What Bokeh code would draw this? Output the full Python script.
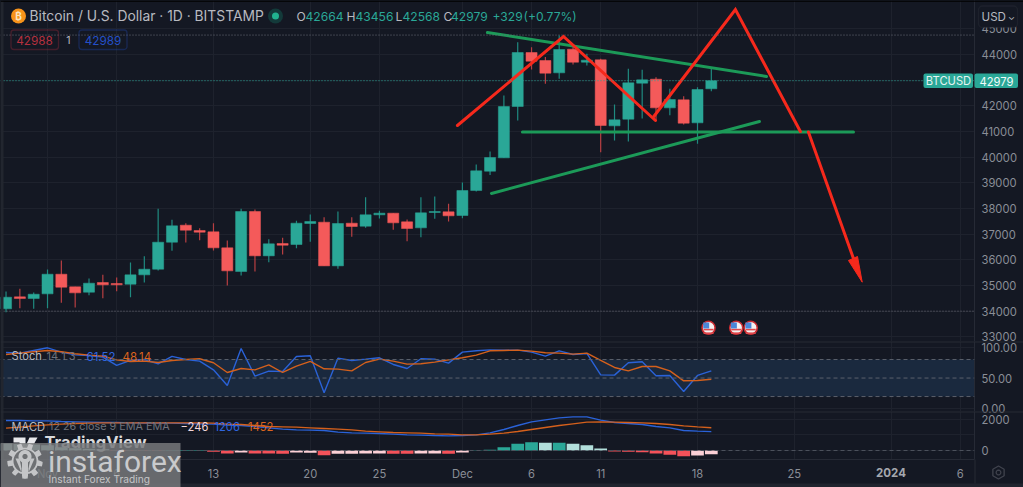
import numpy as np
from bokeh.embed import file_html
from bokeh.resources import INLINE
from bokeh.layouts import column
from bokeh.models import (BoxAnnotation, ColumnDataSource, FixedTicker, Label, PolyAnnotation, Range1d, Span)
from bokeh.plotting import figure

# ---------- data ----------
days = list(range(-15, 37))  # days from 13 Nov 2023
opens = [34090,34557,34492,34674,35440,34947,34739,35116,35077,35051,35414,35635,36687,37350,37142,37090,36467,35544,
         37882,36155,36635,36597,37415,37467,35765,37428,37311,37753,37818,37480,37246,37844,37870,37727,38700,39453,
         39973,41973,44078,43766,43285,44208,43701,43792,41220,41480,42883,43039,41921,42233,41337,42664]
highs = [34765,34869,34726,35622,35973,34947,35271,35414,35310,35895,36142,37986,37558,37428,37233,37428,36752,37986,
         37960,36804,36856,37519,37766,37662,37882,37662,38441,37908,37818,37571,38441,38467,38181,39013,39713,40220,
         42402,44480,44285,43900,44740,44400,44026,43830,42051,43441,43402,43117,42662,42376,42727,43456]
lows = [33960,34115,34090,34115,34323,34141,34622,34505,34778,34544,35116,35583,36350,36674,36765,36363,35000,35388,
        35544,35908,36207,36454,36700,35765,35648,36895,37246,37610,37168,36726,36882,37597,37493,37623,38661,39310,
        39973,41428,43415,42857,43051,43610,43571,40194,40648,40609,41506,41428,41636,41272,40518,42568]
closes = [34544,34492,34661,35440,34934,34713,35090,35025,35025,35414,35635,36687,37324,37155,37077,36467,35570,37882,
          36155,36622,36570,37428,37493,35765,37415,37298,37753,37818,37441,37220,37831,37882,37714,38701,39466,39986,
          41973,44078,43740,43272,44195,43700,43779,41233,41454,42896,43012,41921,42246,41324,42636,42979]

stoch_k = [91.4,90.3,94.7,99.0,92.0,87.6,86.6,83.9,70.4,78.5,80.1,73.1,85.0,80.1,77.4,63.3,38.0,97.9,53.1,61.2,60.6,85.0,86.0,26.1,82.2,78.5,
           80.6,82.8,72.0,65.5,81.2,80.6,74.1,92.0,94.1,95.7,95.2,95.2,92.0,85.5,94.1,88.2,89.8,55.2,54.7,74.7,76.3,53.6,54.2,28.2,54.2,61.5]
stoch_d = [88.2,90.3,92.5,94.7,92.5,89.3,87.1,85.5,79.5,76.9,77.4,75.2,78.5,80.1,81.2,74.7,59.0,65.5,63.3,71.4,59.0,69.3,76.9,65.0,64.4,61.7,
           75.2,80.6,77.4,72.5,73.1,75.8,79.5,82.8,87.1,94.1,94.7,95.2,93.6,90.9,90.3,88.7,90.3,78.5,67.1,61.7,68.7,68.7,61.7,45.5,46.1,48.1]

macd_line = [1917,1917,1896,1896,1853,1832,1810,1789,1789,1768,1747,1747,1747,1725,1704,1683,1619,1597,1533,1448,1363,1321,1299,1278,1172,1129,
             1108,1086,1044,1001,980,958,937,958,1001,1129,1342,1597,1832,1960,2087,2151,2151,1938,1789,1725,1661,1533,1448,1278,1235,1206]
macd_signal = [1427,1491,1576,1640,1683,1725,1747,1768,1768,1768,1768,1768,1768,1768,1768,1747,1683,1661,1597,1533,1512,1491,1448,1406,1363,1321,
               1235,1193,1150,1129,1108,1065,1044,1001,1001,1044,1108,1214,1342,1470,1597,1704,1810,1832,1810,1789,1768,1725,1661,1576,1512,1452]
macd_hist = [440,420,380,330,200,150,110,80,-30,-30,-30,-30,25,25,25,-85,-190,-130,-190,-195,-200,-130,-150,-300,-210,-210,
             -190,-190,-213,-213,-190,-190,-213,-130,20,45,210,425,530,490,500,425,340,130,-65,-85,-105,-190,-275,-360,-320,-246]
hist_shade = list("llllllllrrrrttt" "rrprrrpprpp" "pprrpprpttttt" "ltlllrrrrrrpp")

price_ticks = [34000,35000,36000,37000,38000,39000,40000,41000,42000,43000,44000,45000]
price_grid = [33000] + price_ticks
price_tick_labels = {t: str(t) for t in price_ticks}
stoch_grid = [0, 50, 100]
macd_ticks = [0, 2000]
time_ticks = [-12, -7, 0, 7, 12, 18, 23, 28, 35, 42, 49, 54]
time_labels = ["Nov", "6", "13", "20", "25", "Dec", "6", "11", "18", "25", " ", "6"]

# hand-drawn shapes on the chart: (day, price)
red_up1_d, red_up1_p = [17.64, 25.31, 31.96], [41234, 44701, 41429]
red_up2_d, red_up2_p = [31.84, 37.74, 42.44], [41585, 45753, 41000]
red_down_d, red_down_p = [43.02, 46.38], [40981, 35896]
red_head_d, red_head_p = [45.92, 46.57, 46.91], [35974, 36130, 35129]
green_top_d, green_top_p = [19.81, 39.99], [44857, 43143]
green_mid_d, green_mid_p = [22.34, 46.28], [40981, 40981]
green_low_d, green_low_p = [20.10, 39.48], [38585, 41390]
event_days = [35.8, 37.8, 38.85]
event_price = 33352
high_mark, low_mark, last_price = 44757, 34000, 42979

# ---------- style ----------
BG = "#141823"
GRID = "#1e222d"
SEP = "#262a35"
TXT = "#8a8e97"
LIGHT = "#b8bac0"
TEAL = "#2aa797"
RED = "#f45a5a"
BLUE = "#2a62d8"
ORANGE = "#d4601c"
FONT = "Inter"
SHADES = {"t": "#2aa797", "l": "#b2dfdb", "r": "#f4525a", "p": "#fbd0d6"}

DAY0, DAY1 = -15.40, 55.03  # frame x extent


def make_fig(h, frame_h, yr, bottom=0):
    f = figure(width=1023, height=h, frame_width=974, frame_height=frame_h, output_backend="svg", toolbar_location=None,
               x_range=Range1d(DAY0, DAY1), y_range=yr, x_axis_location="below" if bottom else None,
               y_axis_location="right", min_border=0, min_border_right=49, min_border_bottom=bottom,
               background_fill_color=BG, border_fill_color=BG, outline_line_color=None)
    f.yaxis.major_label_text_font = FONT
    f.yaxis.major_label_text_font_size = "11.2px"
    f.yaxis.major_label_text_color = TXT
    f.yaxis.major_tick_line_color = None
    f.yaxis.minor_tick_line_color = None
    f.yaxis.major_tick_out = 0
    f.yaxis.major_tick_in = 0
    f.yaxis.axis_line_color = SEP
    f.yaxis.major_label_standoff = 7
    f.grid.grid_line_color = GRID
    f.xgrid.ticker = FixedTicker(ticks=time_ticks)
    return f


# ---------- main pane ----------
p1 = make_fig(341, 341, Range1d(32818, 46104))
p1.yaxis.ticker = FixedTicker(ticks=price_ticks)
p1.yaxis.major_label_overrides = price_tick_labels
p1.ygrid.ticker = FixedTicker(ticks=price_grid)

p1.add_layout(Span(location=high_mark, dimension="width", line_color="#6a6e78", line_dash="1 2", line_width=1))
p1.add_layout(Span(location=low_mark, dimension="width", line_color="#6a6e78", line_dash="1 2", line_width=1))
p1.add_layout(Span(location=last_price, dimension="width", line_color=TEAL, line_dash="1 2", line_width=1))

up = [c >= o for o, c in zip(opens, closes)]
src = ColumnDataSource(dict(d=days, o=opens, h=highs, l=lows, c=closes,
                            body=[TEAL if u else RED for u in up],
                            wick=["#1f8a80" if u else "#b93f42" for u in up],
                            top=[max(a, b) for a, b in zip(opens, closes)],
                            bot=[min(a, b) for a, b in zip(opens, closes)]))
p1.segment("d", "h", "d", "l", source=src, line_color="wick", line_width=1.2)
p1.vbar(x="d", width=0.8, top="top", bottom="bot", source=src, fill_color="body", line_color="body", line_width=0.5)

GREEN = "#1c9a58"
for xs, ys in [(green_top_d, green_top_p), (green_mid_d, green_mid_p), (green_low_d, green_low_p)]:
    p1.line(xs, ys, line_color=GREEN, line_width=3, line_cap="round")
LINE_RED = "#f6291c"
for xs, ys in [(red_up1_d, red_up1_p), (red_up2_d, red_up2_p), (red_down_d, red_down_p)]:
    p1.line(xs, ys, line_color=LINE_RED, line_width=3, line_cap="round", line_join="miter")
p1.patch(red_head_d, red_head_p, fill_color=LINE_RED, line_color=LINE_RED, line_width=1)

# event flags
p1.scatter(event_days, [event_price] * 3, marker="circle", size=13, fill_color="#f4f1f1", line_color="#c92a30", line_width=1.6)
for off in [-70, -210]:
    p1.rect(event_days, [event_price + off] * 3, width=10, height=1.6, width_units="screen", height_units="screen",
            fill_color="#e0484c", line_color=None)
p1.rect([e - 0.17 for e in event_days], [event_price + 90] * 3, width=6, height=6, width_units="screen", height_units="screen",
        fill_color="#4a86d8", line_color=None)

# ---------- stochastic pane ----------
p2 = make_fig(70, 70, Range1d(-4.2, 109.2))
p2.yaxis.ticker = FixedTicker(ticks=[50])
p2.yaxis.major_label_overrides = {50: "50.00"}
p2.ygrid.ticker = FixedTicker(ticks=stoch_grid)
p2.add_layout(BoxAnnotation(top=80, bottom=20, fill_color="#1a2a40", fill_alpha=0.95, line_color=None, level="underlay"))
for lv in [80, 50, 20]:
    p2.add_layout(Span(location=lv, dimension="width", line_color="#5b606b", line_dash="4 3", line_width=1))
p2.line(days, stoch_k, line_color=BLUE, line_width=1.4)
p2.line(days, stoch_d, line_color=ORANGE, line_width=1.4)

# ---------- MACD pane ----------
p3 = make_fig(76, 48, Range1d(-575, 2492), bottom=28)
p3.yaxis.ticker = FixedTicker(ticks=macd_ticks)
p3.yaxis.major_label_overrides = {0: "0", 2000: "2000"}
p3.ygrid.ticker = FixedTicker(ticks=[0, 1000, 2000])
p3.xaxis.ticker = FixedTicker(ticks=time_ticks)
p3.xaxis.major_label_overrides = dict(zip(time_ticks, time_labels))
p3.xaxis.major_label_text_font = FONT
p3.xaxis.major_label_text_font_size = "11.2px"
p3.xaxis.major_label_text_color = TXT
p3.xaxis.major_tick_line_color = None
p3.xaxis.minor_tick_line_color = None
p3.xaxis.major_tick_out = 0
p3.xaxis.major_tick_in = 0
p3.xaxis.axis_line_color = SEP
p3.xaxis.major_label_standoff = 7
p3.add_layout(Span(location=0, dimension="width", line_color="#4b505b", line_dash="4 3", line_width=1))
p3.vbar(days, width=0.92, top=macd_hist, bottom=0, fill_color=[SHADES[s] for s in hist_shade], line_color=None)
p3.line(days, macd_line, line_color=BLUE, line_width=1.4)
p3.line(days, macd_signal, line_color=ORANGE, line_width=1.4)

# ---------- transparent overlay over the whole picture, in page pixels ----------
ov = figure(width=1023, height=487, frame_width=1023, frame_height=487, output_backend="svg", toolbar_location=None,
            x_range=Range1d(0, 1023), y_range=Range1d(487, 0), x_axis_location=None, y_axis_location=None,
            min_border=0, background_fill_color=None, border_fill_color=None, outline_line_color=None,
            styles={"position": "absolute", "left": "0px", "top": "0px"})
ov.grid.visible = False


def label(x, y, text, color=LIGHT, size=12.5, style="normal", align="left", font=FONT):
    ov.add_layout(Label(x=x, y=y, text=text, text_color=color, text_font=font, text_font_size=f"{size}px",
                        text_font_style=style, text_align=align, text_baseline="middle"))


def box(l, r, t, b, color, radius=0, alpha=1.0):
    ov.add_layout(BoxAnnotation(left=l, right=r, top=t, bottom=b, fill_color=color, fill_alpha=alpha,
                                line_color=None, border_radius=radius))


def poly(xs, ys, color):
    ov.add_layout(PolyAnnotation(xs=list(xs), ys=list(ys), fill_color=color, fill_alpha=1, line_color=None))


# axis texts that sit against a pane edge
label(981, 336.2, "33000", TXT, 11.2)
label(981, 346.7, "100.00", TXT, 11.2)
label(981, 407.8, "0.00", TXT, 11.2)

box(0, 3, 0, 459, "#22262f")
box(0, 1023, 0, 1.2, "#000000")
box(0, 1023, 341, 342, SEP)
box(0, 1023, 411, 412, SEP)
box(0, 1023, 483, 487, "#20242e")
box(974, 975, 459, 483, SEP)

# header
ov.scatter([18], [15.5], size=15, fill_color="#f7931a", line_color=None)
label(18, 15.5, "₿", "#fbe3bf", 10, "bold", "center")
label(29, 15.5, "Bitcoin / U.S. Dollar · 1D · BITSTAMP", LIGHT, 13.85)
ov.scatter([275], [15.5], size=15, fill_color="#133a3a", line_color=None)
ov.scatter([275], [15.5], size=7, fill_color="#21b28f", line_color=None)
for x, t, c in [(296, "O", LIGHT), (305, "42664", TEAL), (346, "H", LIGHT), (355, "43456", TEAL), (395, "L", LIGHT),
                (402, "42568", TEAL), (443, "C", LIGHT), (450.5, "42979", TEAL), (492, "+329", TEAL), (523, "(+0.77%)", TEAL)]:
    label(x, 16, t, c, 12.1)
for l, r, col, t, tx in [(10.5, 58, "#b5303e", "42988", 34), (78.5, 126.5, "#2450c8", "42989", 102.5)]:
    ov.add_layout(BoxAnnotation(left=l, right=r, top=29.5, bottom=49, fill_alpha=0, line_color=col, line_width=1.3, border_radius=3))
    label(tx, 39.5, t, col, 11.8, align="center")
label(68, 39.5, "1", LIGHT, 10.5, align="center")

# price tags and currency button
box(923, 972.5, 73, 87.5, TEAL, 2)
box(974, 1017.5, 73, 87.5, TEAL, 2)
label(948, 80.5, "BTCUSD", "#e6f4f2", 11.2, align="center")
label(996, 80.5, "42979", "#f2fbfa", 11.2, align="center")
ov.add_layout(BoxAnnotation(left=978, right=1017, top=5.5, bottom=27, fill_color=BG, fill_alpha=1,
                            line_color="#343843", line_width=1.3, border_radius=4))
label(981, 16.5, "USD", LIGHT, 11.6)
label(1011, 15.5, "⌄", LIGHT, 9, align="center")

# indicator titles
for x, t, c, s in [(11, "Stoch", LIGHT, 11.2), (46, "14 1 3", "#6e727b", 11), (86, "61.52", "#2f66e0", 11.5), (122, "48.14", "#dc641e", 11.5)]:
    label(x, 355.5, t, c, s)
for x, t, c, s in [(11, "MACD", LIGHT, 11.2), (48.5, "12 26 close 9 EMA EMA", "#6e727b", 10.8), (180, "−246", "#f3d6da", 11.2),
                   (214, "1206", "#2f66e0", 11.2), (247.5, "1452", "#dc641e", 11.2)]:
    label(x, 426, t, c, s)
label(890.5, 472, "2024", "#a4a7ae", 11.5, "bold", "center")

# settings icon
ang = np.deg2rad(np.arange(30, 390, 60))
ov.add_layout(PolyAnnotation(xs=list(998 + 6.5 * np.cos(ang)), ys=list(472 + 6.5 * np.sin(ang)), fill_alpha=0, line_color="#a4a7ae", line_width=1.3))
ang2 = np.deg2rad(np.arange(0, 360, 30))
ov.add_layout(PolyAnnotation(xs=list(998 + 2.4 * np.cos(ang2)), ys=list(472 + 2.4 * np.sin(ang2)), fill_alpha=0, line_color="#a4a7ae", line_width=1.2))

# TradingView + instaforex watermarks
poly([13, 25, 25, 19, 19, 13], [437, 437, 448, 448, 442, 442], "#e8e9ec")
poly([29, 37, 31, 24], [437, 437, 448, 448], "#e8e9ec")
label(44, 441, "TradingView", "#d9dadd", 16.5, "bold")
box(0, 180, 442.5, 487, "#77797c", 0, 0.84)
a = np.deg2rad(np.arange(0, 360, 3))
teeth = 15.5 + 2.2 * np.sign(np.sin(a * 9))
GEAR = "#c4c5c7"
poly(24.5 + teeth * np.cos(a), 460.5 + teeth * np.sin(a), GEAR)
poly(24.5 + 11.5 * np.cos(a), 460.5 + 11.5 * np.sin(a), "#6e7073")
poly(24.5 + 6.5 * np.cos(a), 456 + 6.5 * np.sin(a), GEAR)
poly(24.5 + 2.6 * np.cos(a), 456 + 2.6 * np.sin(a), "#6e7073")
poly([21.5, 27.5, 27.5, 21.5], [461, 461, 476, 476], GEAR)
poly([15, 19, 21, 21], [458, 458, 468, 472], GEAR)
poly([34, 30, 28, 28], [458, 458, 468, 472], GEAR)
label(47.5, 460.5, "instaforex", "#c9cacc", 30, font="Roboto")
label(48, 478, "Instant Forex Trading", "#c4c5c7", 10.2)

layout = column(p1, p2, p3, ov, spacing=0,
                styles={"position": "absolute", "left": "0px", "top": "0px", "background-color": BG})
open("out.html", "w").write(file_html(layout, INLINE))
